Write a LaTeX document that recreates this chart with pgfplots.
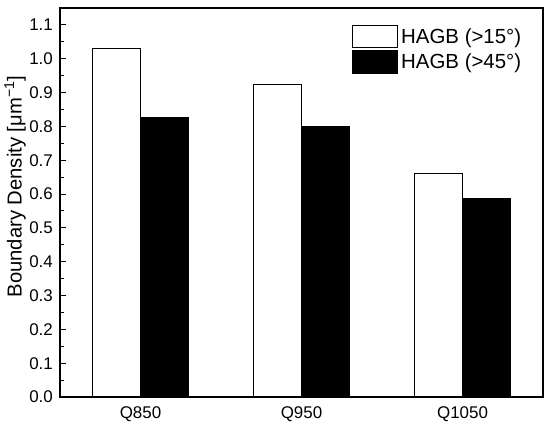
\documentclass[border=0pt]{standalone}
\usepackage{fontspec}
\setmainfont{Liberation Sans}
\usepackage{pgfplots}
\pgfplotsset{compat=1.18}
\begin{document}
\begin{tikzpicture}
\begin{axis}[
  scale only axis,
  width=483bp, height=389bp,
  xmin=-0.5, xmax=2.5,
  ymin=0, ymax=1.15,
  xtick={0,1,2},
  xticklabels={Q850,Q950,Q1050},
  xtick style={draw=none},
  ytick={0,0.1,...,1.1},
  minor y tick num=1,
  ytick pos=left,
  tick align=inside,
  major tick length=6bp,
  minor tick length=4bp,
  every tick/.style={line width=1bp, black},
  axis line style={line width=1.4bp},
  /pgf/number format/assume math mode=true,
  yticklabel={\pgfmathprintnumber[fixed,fixed zerofill,precision=1]{\tick}},
  ticklabel style={font=\fontsize{17}{19}\selectfont},
  yticklabel style={inner sep=0pt, xshift=-7bp},
  xticklabel style={inner sep=0pt, yshift=-9bp},
  ylabel={Boundary Density [μm\textsuperscript{−1}]},
  ylabel style={font=\fontsize{20.3}{22}\selectfont, at={(rel axis cs:0,0.541)}, anchor=center, rotate=0, yshift=45bp},
  legend style={draw=none, fill=none, at={(0.6046,0.956)}, anchor=north west, inner sep=0pt, outer sep=0pt,
    font=\fontsize{20.5}{22}\selectfont, row sep=2bp, cells={anchor=west},
    nodes={inner xsep=3bp, inner ysep=0pt}},
  legend image code/.code={\draw[#1] (0bp,-11bp) rectangle (45bp,11bp);},
  legend cell align=left,
]
\addplot[ybar, bar width=0.3, bar shift=-0.15, draw=black, fill=white, line width=1.2bp]
  coordinates {(0,1.030) (1,0.923) (2,0.661)};
\addlegendentry{HAGB (>15°)}
\addplot[ybar, bar width=0.3, bar shift=0.15, draw=black, fill=black, line width=1.2bp]
  coordinates {(0,0.827) (1,0.798) (2,0.586)};
\addlegendentry{HAGB (>45°)}
\end{axis}
\pgfresetboundingbox
\path ([shift={(-60bp,-27bp)}]current axis.south west) rectangle ([shift={(7bp,8bp)}]current axis.north east);
\end{tikzpicture}
\end{document}
